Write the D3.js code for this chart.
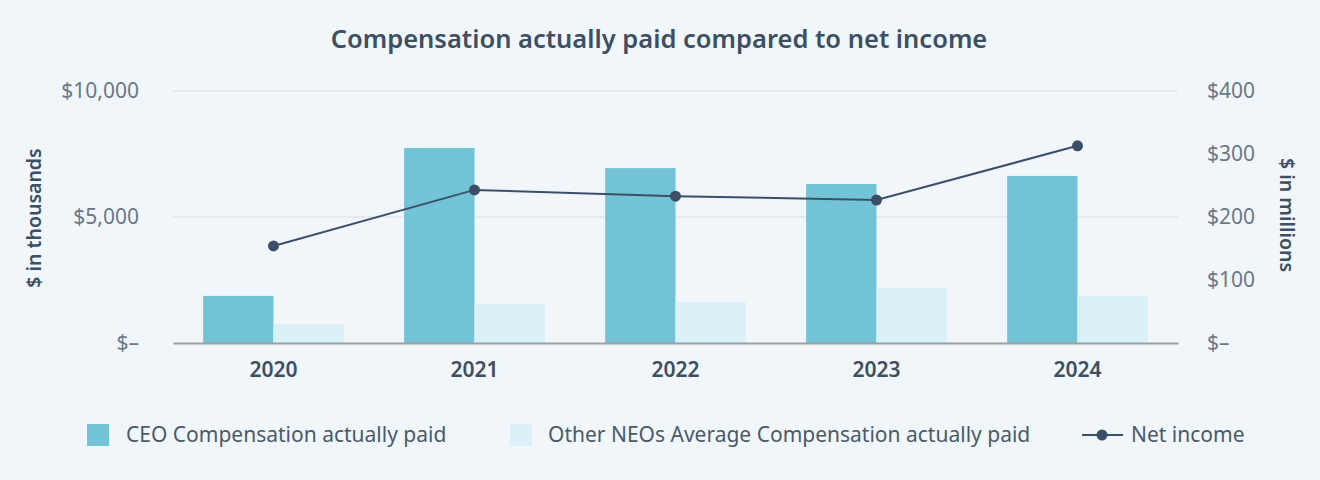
<!DOCTYPE html>
<html>
<head>
<meta charset="utf-8">
<script src="https://cdn.jsdelivr.net/npm/d3@7"></script>
<style>
  body { margin: 0; background: #f1f6fb; }
  svg { display: block; font-family: "Noto Sans", sans-serif; }
</style>
</head>
<body>
<div id="chart"></div>
<script>
const years = ["2020", "2021", "2022", "2023", "2024"];
const ceoPaid = [1870, 7740, 6940, 6310, 6630];        // $ thousands
const otherNeoPaid = [750, 1550, 1630, 2180, 1870];     // $ thousands
const netIncome = [154, 243, 233, 227, 313];            // $ millions
const leftTicks = [0, 5000, 10000];
const rightTicks = [0, 100, 200, 300, 400];

const width = 1320, height = 480;
const margin = { top: 91, right: 142, bottom: 137, left: 173 };
const innerW = width - margin.left - margin.right;
const innerH = height - margin.top - margin.bottom;
const font = "'Noto Sans', sans-serif";

const svg = d3.select("#chart")
  .append("svg")
    .attr("width", width)
    .attr("height", height);

svg.append("rect").attr("width", width).attr("height", height).attr("fill", "#f1f6fb");

const g = svg.append("g")
  .attr("transform", `translate(${margin.left},${margin.top})`);

const x = d3.scaleBand()
  .domain(years)
  .range([0, innerW])
  .paddingInner(0.3)
  .paddingOuter(0.15);

const xs = d3.scaleBand()
  .domain(["ceo", "other"])
  .range([0, x.bandwidth()]);

const y = d3.scaleLinear().domain([0, 10000]).range([innerH, 0]);
const y2 = d3.scaleLinear().domain([0, 400]).range([innerH, 0]);

// gridlines
g.append("g")
  .selectAll("line")
  .data(leftTicks.filter(d => d > 0))
  .join("line")
    .attr("x1", 0).attr("x2", innerW)
    .attr("y1", d => y(d)).attr("y2", d => y(d))
    .attr("stroke", "#e2e6ea")
    .attr("stroke-width", 1.5);

const fmtLeft = d => d === 0 ? "$\u2013" : "$" + d3.format(",")(d);
const fmtRight = d => d === 0 ? "$\u2013" : "$" + d;

// left axis
const leftAxis = g.append("g")
  .call(d3.axisLeft(y).tickValues(leftTicks).tickFormat(fmtLeft).tickSize(0).tickPadding(34));
leftAxis.select(".domain").remove();
leftAxis.selectAll("text")
  .attr("font-size", 21)
  .attr("fill", "#6b7886")
  .attr("font-family", font);

// right axis
const rightAxis = g.append("g")
  .attr("transform", `translate(${innerW},0)`)
  .call(d3.axisRight(y2).tickValues(rightTicks).tickFormat(fmtRight).tickSize(0).tickPadding(29));
rightAxis.select(".domain").remove();
rightAxis.selectAll("text")
  .attr("font-size", 21)
  .attr("fill", "#6b7886")
  .attr("font-family", font);

// bars
const groups = g.append("g")
  .selectAll("g")
  .data(years)
  .join("g")
    .attr("transform", d => `translate(${x(d)},0)`);

groups.append("rect")
  .attr("x", xs("ceo"))
  .attr("y", (d, i) => y(ceoPaid[i]))
  .attr("width", xs.bandwidth())
  .attr("height", (d, i) => innerH - y(ceoPaid[i]))
  .attr("fill", "#73c3d6");

groups.append("rect")
  .attr("x", xs("other"))
  .attr("y", (d, i) => y(otherNeoPaid[i]))
  .attr("width", xs.bandwidth())
  .attr("height", (d, i) => innerH - y(otherNeoPaid[i]))
  .attr("fill", "#d9f1f7");

// bottom axis
const bottomAxis = g.append("g")
  .attr("transform", `translate(0,${innerH})`)
  .call(d3.axisBottom(x).tickSize(0).tickPadding(19));
bottomAxis.select(".domain")
  .attr("stroke", "#9aa0a6")
  .attr("stroke-width", 2);
bottomAxis.selectAll("text")
  .attr("font-size", 21)
  .attr("font-weight", 600)
  .attr("fill", "#3d4f63")
  .attr("font-family", font);

// net income line
const cx = (d, i) => x(years[i]) + x.bandwidth() / 2;
g.append("path")
  .datum(netIncome)
  .attr("fill", "none")
  .attr("stroke", "#3b5068")
  .attr("stroke-width", 2)
  .attr("d", d3.line().x(cx).y(d => y2(d)));

g.append("g")
  .selectAll("circle")
  .data(netIncome)
  .join("circle")
    .attr("cx", cx)
    .attr("cy", d => y2(d))
    .attr("r", 5.5)
    .attr("fill", "#3b5068");

// title
svg.append("text")
  .attr("x", 659).attr("y", 48)
  .attr("text-anchor", "middle")
  .attr("font-size", 25.5)
  .attr("font-weight", 600)
  .attr("fill", "#3d4f63")
  .text("Compensation actually paid compared to net income");

// axis titles
svg.append("text")
  .attr("transform", "translate(41,218) rotate(-90)")
  .attr("text-anchor", "middle")
  .attr("font-size", 19.5)
  .attr("font-weight", 600)
  .attr("fill", "#3d4f63")
  .text("$ in thousands");

svg.append("text")
  .attr("transform", "translate(1280,215) rotate(90)")
  .attr("text-anchor", "middle")
  .attr("font-size", 19.5)
  .attr("font-weight", 600)
  .attr("fill", "#3d4f63")
  .text("$ in millions");

// legend
const legend = svg.append("g").attr("font-size", 21).attr("fill", "#4a5a6b");
const ly = 435;

legend.append("rect").attr("x", 87).attr("y", ly - 11).attr("width", 22).attr("height", 22).attr("fill", "#73c3d6");
legend.append("text").attr("x", 126).attr("y", ly).attr("dy", "0.35em").text("CEO Compensation actually paid");

legend.append("rect").attr("x", 510).attr("y", ly - 11).attr("width", 22).attr("height", 22).attr("fill", "#d9f1f7");
legend.append("text").attr("x", 548).attr("y", ly).attr("dy", "0.35em").text("Other NEOs Average Compensation actually paid");

legend.append("line").attr("x1", 1082).attr("x2", 1123).attr("y1", ly).attr("y2", ly)
  .attr("stroke", "#3b5068").attr("stroke-width", 2);
legend.append("circle").attr("cx", 1102).attr("cy", ly).attr("r", 5.5).attr("fill", "#3b5068");
legend.append("text").attr("x", 1131).attr("y", ly).attr("dy", "0.35em").text("Net income");
</script>
</body>
</html>
